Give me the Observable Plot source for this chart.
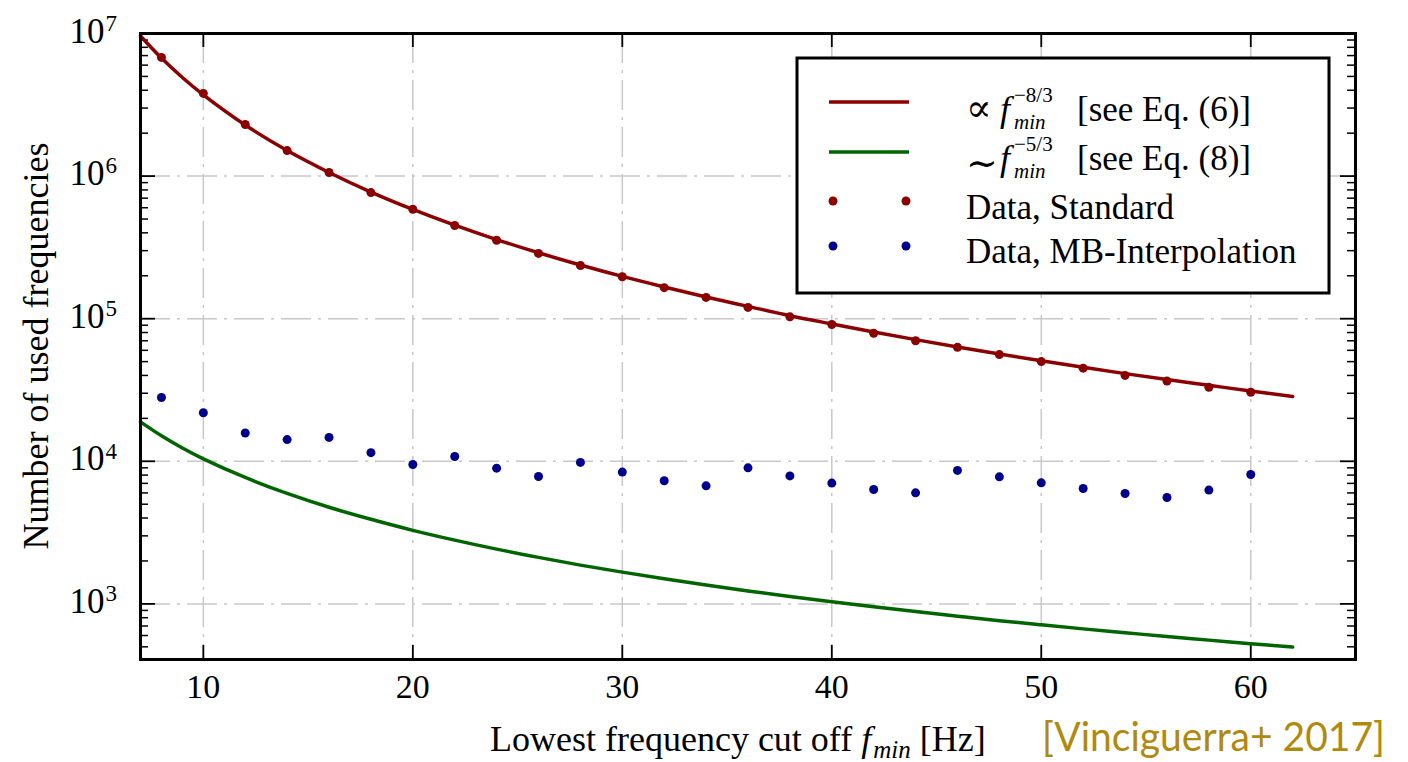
<!DOCTYPE html>
<html>
<head>
<meta charset="utf-8">
<script src="https://cdn.jsdelivr.net/npm/d3@7"></script>
<script src="https://cdn.jsdelivr.net/npm/@observablehq/plot@0.6"></script>
<style>
  html, body { margin: 0; padding: 0; background: #fff; }
  #chart svg { display: block; }
</style>
</head>
<body>
<div id="chart"></div>
<script>
// ---- data ----
const fCurve = [7,8,9,10,12,14,16,18,20,22,24,26,28,30,32,34,36,38,40,42,44,46,48,50,52,54,56,58,60,62];
const curve83 = [9.6e6,6.72e6,4.91e6,3.71e6,2.28e6,1.51e6,1.06e6,7.73e5,5.84e5,4.53e5,3.59e5,2.90e5,2.38e5,1.98e5,1.67e5,1.42e5,1.22e5,1.05e5,9.19e4,8.07e4,7.13e4,6.33e4,5.65e4,5.07e4,4.56e4,4.12e4,3.74e4,3.41e4,3.11e4,2.85e4];
const curve53 = [18900,15100,12400,10400,7700,5950,4760,3920,3280,2800,2420,2120,1870,1670,1500,1356,1233,1127,1035,954,883,820,763,713,668,628,590,557,526,498];

const fData = [8,10,12,14,16,18,20,22,24,26,28,30,32,34,36,38,40,42,44,46,48,50,52,54,56,58,60];
const standard = [6.8e6,3.8e6,2.3e6,1.51e6,1.06e6,7.66e5,5.86e5,4.5e5,3.55e5,2.87e5,2.36e5,1.97e5,1.65e5,1.41e5,1.2e5,1.03e5,9.1e4,7.9e4,7.0e4,6.3e4,5.6e4,5.0e4,4.5e4,4.0e4,3.65e4,3.3e4,3.05e4];
const mbInterp = [28000,21900,15800,14200,14700,11500,9500,10800,8950,7820,9820,8400,7300,6730,9000,7900,7030,6340,6010,8630,7780,7060,6440,5940,5570,6280,8080];

const xTicks = [10,20,30,40,50,60];
const yTicks = [1e3,1e4,1e5,1e6,1e7];
const yGrid = [1e3,1e4,1e5,1e6];
const yMinor = [];
for (let n = 2; n <= 6; n++) for (let k = 2; k <= 9; k++) { const v = k * Math.pow(10, n); if (v > 410) yMinor.push(v); }

const legendLabels = ["[see Eq. (6)]", "[see Eq. (8)]", "Data, Standard", "Data, MB-Interpolation"];
const xLabel = "Lowest frequency cut off ";
const yLabel = "Number of used frequencies";
const citation = "[Vinciguerra+ 2017]";

const RED = "#8b0000", GREEN = "#006400", BLUE = "#00008b";
const SERIF = "Liberation Serif, DejaVu Serif, serif";

const curveRows = fCurve.map((f, i) => ({f, a: curve83[i], b: curve53[i]}));
const dataRows = fData.map((f, i) => ({f, s: standard[i], m: mbInterp[i]}));

const W = 1408, H = 762, ML = 140, MR = 53, MT = 33, MB = 103;
const PW = W - ML - MR, PH = H - MT - MB;
const grid = {stroke: "#c8c8c8", strokeOpacity: 1, strokeWidth: 1.5, strokeDasharray: "30,7,3,7"};

const svg = Plot.plot({
  width: W, height: H,
  marginLeft: ML, marginRight: MR, marginTop: MT, marginBottom: MB,
  style: {fontFamily: SERIF, fontSize: "33px", color: "#000", background: "#fff"},
  x: {domain: [7, 65], axis: null},
  y: {type: "log", domain: [Math.pow(10, 2.61), 1e7], axis: null},
  marks: [
    Plot.gridX(xTicks, grid),
    Plot.gridY(yGrid, grid),
    // ticks (inward, all four sides)
    Plot.ruleX(xTicks, {x: d => d, insetTop: PH - 14, stroke: "#000", strokeWidth: 1.8}),
    Plot.ruleX(xTicks, {x: d => d, insetBottom: PH - 14, stroke: "#000", strokeWidth: 1.8}),
    Plot.ruleY(yTicks, {y: d => d, insetRight: PW - 15, stroke: "#000", strokeWidth: 1.8}),
    Plot.ruleY(yTicks, {y: d => d, insetLeft: PW - 15, stroke: "#000", strokeWidth: 1.8}),
    Plot.ruleY(yMinor, {y: d => d, insetRight: PW - 8, stroke: "#000", strokeWidth: 1.5}),
    Plot.ruleY(yMinor, {y: d => d, insetLeft: PW - 8, stroke: "#000", strokeWidth: 1.5}),
    // curves
    Plot.line(curveRows, {x: "f", y: "a", stroke: RED, strokeWidth: 3.5, curve: "catmull-rom"}),
    Plot.line(curveRows, {x: "f", y: "b", stroke: GREEN, strokeWidth: 3.5, curve: "catmull-rom"}),
    // data points
    Plot.dot(dataRows, {x: "f", y: "s", r: 4.5, fill: RED}),
    Plot.dot(dataRows, {x: "f", y: "m", r: 4.5, fill: BLUE}),
    Plot.frame({stroke: "#000", strokeWidth: 3}),
    // tick labels
    Plot.text(xTicks, {x: d => d, text: d => String(d), frameAnchor: "bottom", lineAnchor: "top", dy: 14, fontSize: 34, fontFamily: SERIF, fill: "#000"}),
    Plot.text(yTicks, {y: d => d, text: () => "10", frameAnchor: "left", textAnchor: "end", dx: -36, dy: -2, fontSize: 35, fontFamily: SERIF, fill: "#000"}),
    Plot.text(yTicks, {y: d => d, text: d => String(Math.round(Math.log10(d))), frameAnchor: "left", textAnchor: "start", dx: -35, dy: -10, fontSize: 23, fontFamily: SERIF, fill: "#000"})
  ]
});

document.getElementById("chart").appendChild(svg);

// ---- axis labels, legend, citation ----
const s = d3.select(svg);
const txt = (parent, x, y, size) => parent.append("text")
  .attr("x", x).attr("y", y).attr("font-size", size)
  .attr("font-family", SERIF).attr("fill", "#000").attr("text-anchor", "start");

// y label
s.append("text")
  .attr("transform", `translate(48,${MT + PH / 2}) rotate(-90)`)
  .attr("font-family", SERIF).attr("fill", "#000")
  .attr("text-anchor", "middle").attr("font-size", 36).text(yLabel);

// x label with math f_min
const xl = txt(s, 490, 751, 36);
xl.append("tspan").text(xLabel);
xl.append("tspan").attr("font-style", "italic").text("f");
xl.append("tspan").attr("font-style", "italic").attr("font-size", 25).attr("dy", 7).attr("dx", 2).text("min");
xl.append("tspan").attr("dy", -7).text(" [Hz]");

// citation
s.append("text").attr("x", 1042).attr("y", 751).attr("text-anchor", "start")
  .attr("font-family", "Lato, Open Sans, sans-serif").attr("font-size", 40)
  .attr("fill", "#b08a0e").attr("textLength", 343).attr("lengthAdjust", "spacingAndGlyphs")
  .text(citation);

// legend
const lg = s.append("g");
lg.append("rect").attr("x", 797).attr("y", 58).attr("width", 532).attr("height", 235)
  .attr("fill", "#fff").attr("stroke", "#000").attr("stroke-width", 3);
lg.append("line").attr("x1", 829).attr("x2", 909).attr("y1", 102).attr("y2", 102).attr("stroke", RED).attr("stroke-width", 3.5);
lg.append("line").attr("x1", 829).attr("x2", 909).attr("y1", 152).attr("y2", 152).attr("stroke", GREEN).attr("stroke-width", 3.5);
[[833, 201, RED], [906, 201, RED], [833, 246, BLUE], [906, 246, BLUE]].forEach(([cx, cy, c]) =>
  lg.append("circle").attr("cx", cx).attr("cy", cy).attr("r", 4.5).attr("fill", c));

function mathRow(y, sym, symDy, exp, label) {
  txt(lg, 966, y + symDy, 38).text(sym);
  txt(lg, 1000, y, 36).attr("font-style", "italic").text("f");
  txt(lg, 1014, y - 19, 21).text(exp);
  txt(lg, 1014, y + 8, 21).attr("font-style", "italic").text("min");
  txt(lg, 1077, y, 35).text(label);
}
mathRow(121, "\u221D", 0, "\u22128/3", legendLabels[0]);
mathRow(170, "\u223C", 6, "\u22125/3", legendLabels[1]);
txt(lg, 966, 219, 35).text(legendLabels[2]);
txt(lg, 966, 263, 35).text(legendLabels[3]);
</script>
</body>
</html>
